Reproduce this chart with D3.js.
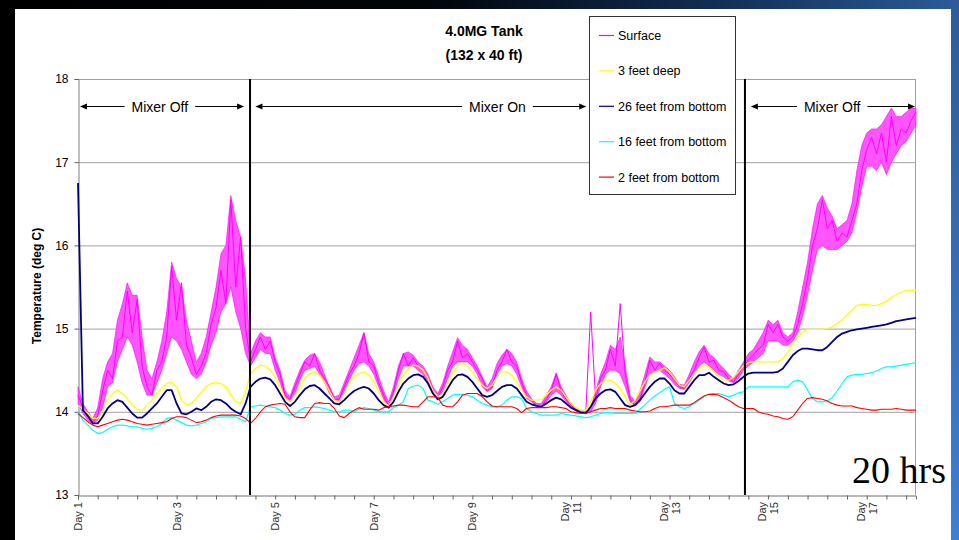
<!DOCTYPE html>
<html>
<head>
<meta charset="utf-8">
<script src="https://cdn.jsdelivr.net/npm/d3@7"></script>
<style>
  body { margin: 0; background: #000; }
  svg { display: block; font-family: Arial, "Liberation Sans", sans-serif; }
</style>
</head>
<body>
<div id="chart"></div>
<script>
// logger readings, one every 0.1 day from Day 1 to Day 18 (deg C)
const startDay = 1, stepDay = 0.1;

const surface = [
  14.2, 14.05, 13.95, 13.88, 13.95, 14.25, 14.5, 14.4, 14.85, 14.9,
  15.45, 14.95, 15.35, 14.55, 14.3, 14.2, 14.5, 14.6, 14.9, 15.75,
  15.1, 15.55, 14.8, 14.65, 14.45, 14.55, 14.7, 15.05, 15.25, 15.7,
  15.3, 16.55, 15.5, 16.1, 15.0, 14.6, 14.75, 14.9, 14.75, 14.85,
  14.6, 14.45, 14.2, 14.15, 14.3, 14.45, 14.6, 14.55, 14.7, 14.5,
  14.4, 14.3, 14.15, 14.15, 14.3, 14.45, 14.55, 14.7, 14.95, 14.6,
  14.55, 14.35, 14.2, 14.07, 14.25, 14.5, 14.7, 14.55, 14.65, 14.55,
  14.5, 14.4, 14.25, 14.17, 14.3, 14.5, 14.6, 14.85, 14.65, 14.7,
  14.6, 14.5, 14.4, 14.25, 14.3, 14.5, 14.6, 14.75, 14.6, 14.55,
  14.35, 14.2, 14.14, 14.08, 14.06, 14.15, 14.25, 14.45, 14.25, 14.15,
  14.08, 14.03, 14.0, 13.98, 15.2, 14.15, 14.4, 14.5, 14.75, 14.55,
  15.3, 14.45, 14.15, 14.08, 14.15, 14.35, 14.62, 14.5, 14.58, 14.5,
  14.45, 14.38, 14.3, 14.28, 14.4, 14.5, 14.65, 14.78, 14.6, 14.62,
  14.5, 14.48, 14.4, 14.36, 14.45, 14.55, 14.62, 14.68, 14.75, 14.8,
  15.05, 14.95, 15.05, 14.9, 14.85, 14.9, 15.05, 15.3, 15.6, 16.0,
  16.2, 16.55, 16.2, 16.3, 16.05, 16.15, 16.1, 16.3, 16.5, 16.9,
  17.15, 17.3, 17.1, 17.35, 17.0, 17.55, 17.2, 17.4, 17.35, 17.5,
  17.6
];

// spread of the noisy surface trace inside each 0.1 day
const surfaceLow = [
  14.1, 13.98, 13.9, 13.85, 13.9, 14.05, 14.3, 14.35, 14.6, 14.75,
  14.9, 14.8, 14.6, 14.35, 14.2, 14.2, 14.35, 14.5, 14.7, 14.9,
  14.85, 14.75, 14.6, 14.45, 14.4, 14.45, 14.6, 14.8, 14.95, 15.2,
  15.3, 15.5, 15.2, 15.0, 14.7, 14.55, 14.65, 14.75, 14.7, 14.7,
  14.5, 14.35, 14.18, 14.12, 14.22, 14.38, 14.5, 14.52, 14.55, 14.45,
  14.35, 14.22, 14.14, 14.12, 14.25, 14.38, 14.5, 14.58, 14.6, 14.55,
  14.45, 14.3, 14.15, 14.06, 14.2, 14.4, 14.55, 14.55, 14.55, 14.5,
  14.45, 14.35, 14.22, 14.16, 14.25, 14.4, 14.55, 14.6, 14.6, 14.6,
  14.55, 14.45, 14.3, 14.24, 14.28, 14.45, 14.55, 14.58, 14.55, 14.45,
  14.3, 14.16, 14.12, 14.07, 14.06, 14.12, 14.2, 14.25, 14.2, 14.12,
  14.06, 14.02, 13.99, 13.98, 14.0, 14.1, 14.3, 14.45, 14.5, 14.5,
  14.45, 14.3, 14.12, 14.07, 14.12, 14.3, 14.45, 14.48, 14.5, 14.45,
  14.4, 14.33, 14.28, 14.27, 14.35, 14.45, 14.55, 14.6, 14.55, 14.5,
  14.45, 14.42, 14.37, 14.35, 14.4, 14.5, 14.55, 14.6, 14.65, 14.7,
  14.85, 14.85, 14.85, 14.8, 14.8, 14.85, 14.95, 15.15, 15.4, 15.7,
  15.95, 16.0, 15.95, 15.95, 15.95, 16.0, 16.05, 16.15, 16.4, 16.7,
  16.95, 16.95, 16.9, 17.0, 16.85, 17.0, 17.1, 17.2, 17.25, 17.35,
  17.45
];

const surfaceHigh = [
  14.3, 14.1, 14.0, 13.92, 14.05, 14.4, 14.6, 14.7, 15.1, 15.3,
  15.55, 15.4, 15.4, 14.9, 14.5, 14.4, 14.6, 14.85, 15.2, 15.8,
  15.6, 15.5, 15.1, 14.85, 14.6, 14.7, 14.9, 15.2, 15.5, 15.9,
  16.0, 16.6, 16.3, 16.1, 15.6, 14.7, 14.85, 14.95, 14.9, 14.9,
  14.65, 14.5, 14.25, 14.18, 14.35, 14.5, 14.62, 14.68, 14.7, 14.6,
  14.45, 14.3, 14.18, 14.2, 14.35, 14.5, 14.65, 14.8, 14.95, 14.7,
  14.6, 14.42, 14.25, 14.12, 14.3, 14.55, 14.7, 14.72, 14.68, 14.6,
  14.55, 14.45, 14.3, 14.22, 14.35, 14.55, 14.72, 14.89, 14.8, 14.75,
  14.65, 14.55, 14.42, 14.3, 14.4, 14.58, 14.68, 14.75, 14.7, 14.6,
  14.4, 14.25, 14.16, 14.1, 14.1, 14.2, 14.3, 14.47, 14.3, 14.2,
  14.1, 14.05, 14.02, 14.0, 14.05, 14.25, 14.45, 14.6, 14.8, 14.75,
  14.9, 14.55, 14.2, 14.12, 14.25, 14.45, 14.66, 14.6, 14.6, 14.55,
  14.5, 14.42, 14.33, 14.32, 14.45, 14.6, 14.72, 14.8, 14.7, 14.65,
  14.58, 14.52, 14.45, 14.4, 14.5, 14.6, 14.7, 14.75, 14.85, 14.95,
  15.1, 15.05, 15.1, 14.95, 14.9, 14.95, 15.2, 15.5, 15.8, 16.2,
  16.5, 16.6, 16.45, 16.35, 16.2, 16.25, 16.3, 16.5, 16.9, 17.2,
  17.35, 17.4, 17.4, 17.45, 17.55, 17.65, 17.55, 17.55, 17.6, 17.65,
  17.65
];

const feet3 = [
  14.08, 14.03, 13.98, 13.92, 13.92, 14.02, 14.15, 14.22, 14.26, 14.22,
  14.16, 14.08, 14.03, 14.02, 14.08, 14.14, 14.22, 14.28, 14.34, 14.36,
  14.3, 14.14, 14.08, 14.1, 14.16, 14.24, 14.3, 14.34, 14.35, 14.34,
  14.3, 14.2, 14.12, 14.1, 14.24, 14.46, 14.52, 14.56, 14.55, 14.5,
  14.42, 14.3, 14.16, 14.12, 14.2, 14.3, 14.4, 14.46, 14.48, 14.44,
  14.36, 14.25, 14.14, 14.12, 14.22, 14.34, 14.42, 14.46, 14.48, 14.44,
  14.36, 14.25, 14.12, 14.07, 14.18, 14.32, 14.44, 14.52, 14.56, 14.55,
  14.5, 14.4, 14.25, 14.18, 14.22, 14.34, 14.46, 14.55, 14.58, 14.55,
  14.48, 14.4, 14.32, 14.28, 14.32, 14.42, 14.48, 14.48, 14.44, 14.36,
  14.26, 14.18, 14.14, 14.14, 14.15, 14.2, 14.26, 14.3, 14.26, 14.18,
  14.1, 14.05, 14.02, 14.02, 14.12, 14.26, 14.34, 14.38, 14.38, 14.34,
  14.28, 14.18, 14.08, 14.14, 14.25, 14.36, 14.44, 14.48, 14.5, 14.53,
  14.48, 14.4, 14.32, 14.3, 14.38, 14.46, 14.52, 14.56, 14.54, 14.48,
  14.42, 14.38, 14.38, 14.42, 14.48, 14.55, 14.59, 14.6, 14.6, 14.6,
  14.6, 14.6, 14.6, 14.64, 14.72, 14.82, 14.9, 14.96, 14.99, 14.99,
  14.99, 14.99, 15.0, 15.02, 15.06, 15.1, 15.16, 15.22, 15.28, 15.29,
  15.29, 15.28, 15.28, 15.3, 15.33, 15.37, 15.41, 15.44, 15.46, 15.46,
  15.46
];

const feet26 = [
  16.75, 14.02, 13.95, 13.86, 13.86, 13.94, 14.04, 14.1, 14.14, 14.12,
  14.05, 13.98, 13.93, 13.93, 13.98, 14.04, 14.1, 14.18, 14.26, 14.26,
  14.1, 13.98, 13.97, 14.0, 14.04, 14.02, 14.06, 14.12, 14.15, 14.14,
  14.1, 14.04, 14.0, 13.97, 14.1, 14.3, 14.36, 14.4, 14.41, 14.39,
  14.32, 14.22, 14.12, 14.07, 14.12, 14.2, 14.27, 14.31, 14.32, 14.28,
  14.22, 14.16, 14.1, 14.09, 14.14, 14.2, 14.25, 14.28, 14.3, 14.28,
  14.22, 14.14, 14.08, 14.05, 14.12, 14.24, 14.34, 14.4, 14.44, 14.45,
  14.42, 14.34, 14.22, 14.15, 14.18, 14.28, 14.38, 14.44, 14.45, 14.42,
  14.36, 14.28, 14.2, 14.18, 14.2, 14.25, 14.3, 14.32, 14.32, 14.28,
  14.2, 14.12, 14.09, 14.07, 14.06, 14.1, 14.14, 14.17, 14.15, 14.1,
  14.05, 14.02, 13.99, 13.98, 14.06, 14.16, 14.22, 14.26, 14.27, 14.24,
  14.16, 14.08, 14.06, 14.08, 14.14, 14.22, 14.3, 14.36, 14.4, 14.4,
  14.34, 14.26, 14.22, 14.22, 14.3, 14.38, 14.44, 14.44, 14.47, 14.42,
  14.38, 14.34, 14.32, 14.33, 14.37, 14.42, 14.46, 14.47, 14.47, 14.47,
  14.47, 14.47, 14.48, 14.52, 14.6, 14.68, 14.73, 14.76, 14.76, 14.75,
  14.74, 14.74, 14.78, 14.84, 14.9, 14.94, 14.96, 14.98, 14.99, 15.0,
  15.01, 15.02, 15.03, 15.04, 15.05, 15.07, 15.09, 15.1, 15.11, 15.12,
  15.13
];

const feet16 = [
  14.0, 13.9, 13.84, 13.78, 13.74, 13.75, 13.79, 13.82, 13.84, 13.84,
  13.83, 13.82, 13.82, 13.8, 13.79, 13.8, 13.82, 13.86, 13.92, 13.93,
  13.9, 13.87, 13.84, 13.83, 13.84, 13.86, 13.88, 13.92, 13.93, 13.94,
  13.94, 13.94, 13.94, 13.91, 13.88, 14.06, 14.07, 14.08, 14.07, 14.06,
  14.05, 14.02, 13.98, 13.96, 13.97, 14.02, 14.05, 14.05, 14.06, 14.05,
  14.04, 14.02, 14.0, 14.0, 14.02, 14.02, 14.0, 14.03, 14.05, 14.04,
  14.02, 14.0, 14.0, 14.0, 14.05, 14.08, 14.12, 14.28, 14.31, 14.32,
  14.28, 14.14, 14.12, 14.09, 14.12, 14.16, 14.2, 14.21, 14.21, 14.2,
  14.18, 14.14, 14.1, 14.08, 14.06, 14.06, 14.08, 14.14, 14.18, 14.18,
  14.16, 14.04, 14.0, 13.98, 13.96, 13.96, 13.96, 13.96, 13.98, 13.97,
  13.96, 13.95, 13.94, 13.93, 13.94, 13.96, 13.98, 13.99, 13.99, 13.98,
  13.98, 13.98, 13.98, 13.98, 14.03, 14.08, 14.14, 14.19, 14.23, 14.27,
  14.3, 14.1, 14.06, 14.04, 14.06, 14.1, 14.14, 14.18, 14.21, 14.22,
  14.22, 14.2, 14.18, 14.2, 14.23, 14.24, 14.3, 14.3, 14.3, 14.3,
  14.3, 14.3, 14.3, 14.3, 14.3, 14.36, 14.38, 14.36, 14.26, 14.16,
  14.12, 14.12, 14.13, 14.17, 14.25, 14.34, 14.42, 14.44, 14.45, 14.45,
  14.46, 14.47, 14.49, 14.52, 14.54, 14.54, 14.55, 14.56, 14.57, 14.58,
  14.59
];

const feet2 = [
  13.98, 13.93, 13.88, 13.84, 13.82, 13.84, 13.86, 13.88, 13.9, 13.91,
  13.9, 13.88, 13.86, 13.85, 13.84, 13.85, 13.86, 13.87, 13.88, 13.92,
  13.94, 13.94, 13.93, 13.9, 13.87, 13.88, 13.9, 13.93, 13.95, 13.96,
  13.96, 13.96, 13.96, 13.95, 13.92, 13.86, 13.92, 14.0, 14.06, 14.08,
  14.09, 14.1, 14.09, 14.0, 13.94, 13.93, 13.93, 14.02, 14.1, 14.11,
  14.1, 14.1, 14.04, 13.95, 13.93, 13.98, 14.02, 14.05, 14.03, 14.03,
  14.03, 14.02, 14.05, 14.06, 14.07, 14.08, 14.08, 14.07, 14.06, 14.06,
  14.12, 14.18, 14.18, 14.17, 14.08, 14.06, 14.06, 14.12, 14.2, 14.22,
  14.22, 14.22, 14.18, 14.12, 14.07, 14.06, 14.06, 14.06, 14.06, 14.04,
  13.99, 14.04, 14.05, 14.05, 14.05, 14.05, 14.06, 14.06, 14.05, 14.04,
  14.0, 13.99, 13.98, 13.98, 14.0, 14.02, 14.04, 14.04, 14.05, 14.04,
  14.04, 14.04, 14.02, 14.01, 14.0, 14.0, 14.01, 14.04, 14.06, 14.06,
  14.07, 14.08, 14.08, 14.08, 14.08, 14.11, 14.15, 14.19, 14.21, 14.21,
  14.2, 14.17, 14.14, 14.1, 14.06, 14.04, 14.04, 14.04, 14.0, 13.98,
  13.97, 13.95, 13.94, 13.92, 13.91, 13.94, 14.02, 14.1, 14.16, 14.17,
  14.16, 14.15, 14.13, 14.1, 14.08, 14.07, 14.07, 14.07, 14.05, 14.04,
  14.03, 14.02, 14.02, 14.03, 14.03, 14.03, 14.04, 14.03, 14.02, 14.02,
  14.02
];

const seriesNames = ["Surface", "3 feet deep", "26 feet from bottom", "16 feet from bottom", "2 feet from bottom"];
const seriesValues = [surface, feet3, feet26, feet16, feet2];
const seriesColors = ["#ff00ff", "#ffff00", "#000080", "#00ffff", "#ff0000"];
const seriesWidths = [1, 1.3, 1.8, 1.2, 1.1];

const yTicks = [13, 14, 15, 16, 17, 18];
const dayLabels = [1, 3, 5, 7, 9, 11, 13, 15, 17];
const mixerSwitch = [4.49, 14.53];
const mixerNotes = [
  { label: "Mixer Off", from: 1.04, to: 4.37, at: 2.66 },
  { label: "Mixer On", from: 4.6, to: 11.31, at: 9.51 },
  { label: "Mixer Off", from: 14.65, to: 17.98, at: 16.3 }
];

const width = 959, height = 540;

const x = d3.scaleLinear().domain([1, 18]).range([78, 916]);
const y = d3.scaleLinear().domain([13, 18]).range([495, 79]);
const dayAt = i => startDay + i * stepDay;

const svg = d3.select("#chart")
  .append("svg")
  .attr("width", width)
  .attr("height", height);

// slide background
const defs = svg.append("defs");
const topGrad = defs.append("linearGradient").attr("id", "topGrad");
topGrad.append("stop").attr("offset", "0%").attr("stop-color", "#000");
topGrad.append("stop").attr("offset", "45%").attr("stop-color", "#01040a");
topGrad.append("stop").attr("offset", "75%").attr("stop-color", "#122e55");
topGrad.append("stop").attr("offset", "100%").attr("stop-color", "#2c5c98");
const sideGrad = defs.append("linearGradient").attr("id", "sideGrad")
  .attr("x1", 0).attr("y1", 0).attr("x2", 0).attr("y2", 1);
sideGrad.append("stop").attr("offset", "0%").attr("stop-color", "#2c5c98");
sideGrad.append("stop").attr("offset", "100%").attr("stop-color", "#3d7fd4");

svg.append("rect").attr("width", width).attr("height", height).attr("fill", "#000");
svg.append("rect").attr("width", width).attr("height", 9).attr("fill", "url(#topGrad)");
svg.append("rect").attr("x", 951).attr("width", 8).attr("height", height).attr("fill", "url(#sideGrad)");
svg.append("rect").attr("x", 15).attr("y", 9).attr("width", 936).attr("height", 531).attr("fill", "#fff");

// grid
svg.append("g")
  .selectAll("line")
  .data(yTicks.filter(t => t > 13))
  .join("line")
  .attr("x1", x(1)).attr("x2", x(18))
  .attr("y1", d => y(d) + 0.5).attr("y2", d => y(d) + 0.5)
  .attr("stroke", "#a0a0a0");

svg.append("line")
  .attr("x1", x(18) - 0.5).attr("x2", x(18) - 0.5)
  .attr("y1", y(18)).attr("y2", y(13))
  .attr("stroke", "#a0a0a0");

// axes
svg.append("g")
  .attr("transform", `translate(${x(1) + 0.5},0)`)
  .call(d3.axisLeft(y).tickValues(yTicks).tickSize(4).tickPadding(6).tickFormat(d3.format("d")))
  .call(g => g.select(".domain").attr("stroke", "#808080"))
  .call(g => g.selectAll(".tick line").attr("stroke", "#606060"))
  .call(g => g.selectAll("text").attr("font-size", 12).attr("fill", "#000")
    .attr("font-family", "Arial, 'Liberation Sans', sans-serif"));

const xTicks = d3.range(43).map(i => 1 + i * 0.4);
svg.append("g")
  .attr("transform", `translate(0,${y(13) + 0.5})`)
  .call(d3.axisBottom(x).tickValues(xTicks).tickSize(4).tickFormat(""))
  .call(g => g.select(".domain").attr("stroke", "#707070"))
  .call(g => g.selectAll(".tick line").attr("stroke", "#606060"));

const dayText = svg.append("g")
  .attr("font-size", 11)
  .attr("fill", "#333")
  .selectAll("text")
  .data(dayLabels)
  .join("text")
  .attr("transform", d => `translate(${x(d)},502) rotate(-90)`)
  .attr("text-anchor", "end");

dayText.each(function(d) {
  const t = d3.select(this);
  if (d < 10) {
    t.append("tspan").attr("x", 0).attr("y", 4).text("Day " + d);
  } else {
    t.append("tspan").attr("x", 0).attr("y", -2).text("Day");
    t.append("tspan").attr("x", 0).attr("y", 10).text(d);
  }
});

// surface noise band, then the traces
const band = d3.area()
  .x((d, i) => x(dayAt(i)))
  .y0(d => y(d[0]))
  .y1(d => y(d[1]));

svg.append("path")
  .datum(surfaceLow.map((v, i) => [v, surfaceHigh[i]]))
  .attr("fill", "#ff55ff")
  .attr("stroke", "#ff00ff")
  .attr("stroke-width", 0.6)
  .attr("d", band);

const line = d3.line()
  .x((d, i) => x(dayAt(i)))
  .y(d => y(d));

svg.append("g")
  .selectAll("path")
  .data(seriesValues)
  .join("path")
  .attr("fill", "none")
  .attr("stroke", (d, i) => seriesColors[i])
  .attr("stroke-width", (d, i) => seriesWidths[i])
  .attr("stroke-linejoin", "round")
  .attr("d", line);

// mixer switch lines
svg.append("g")
  .selectAll("line")
  .data(mixerSwitch)
  .join("line")
  .attr("x1", d => x(d)).attr("x2", d => x(d))
  .attr("y1", y(18)).attr("y2", y(13))
  .attr("stroke", "#000")
  .attr("stroke-width", 2);

// mixer arrows
const noteY = 106.5;
const notes = svg.append("g");
mixerNotes.forEach(n => {
  const cx = x(n.at);
  const t = notes.append("text")
    .attr("x", cx).attr("y", noteY + 5)
    .attr("text-anchor", "middle")
    .attr("font-size", 14)
    .attr("fill", "#000")
    .text(n.label);
  const w = t.node().getComputedTextLength();
  const x0 = x(n.from), x1 = x(n.to);
  notes.append("line")
    .attr("x1", x0 + 5).attr("x2", cx - w / 2 - 7)
    .attr("y1", noteY).attr("y2", noteY)
    .attr("stroke", "#000");
  notes.append("line")
    .attr("x1", cx + w / 2 + 7).attr("x2", x1 - 5)
    .attr("y1", noteY).attr("y2", noteY)
    .attr("stroke", "#000");
  notes.append("path")
    .attr("d", `M${x0},${noteY} L${x0 + 7},${noteY - 3} L${x0 + 7},${noteY + 3} Z`)
    .attr("fill", "#000");
  notes.append("path")
    .attr("d", `M${x1},${noteY} L${x1 - 7},${noteY - 3} L${x1 - 7},${noteY + 3} Z`)
    .attr("fill", "#000");
});

// legend
const legend = svg.append("g");
legend.append("rect")
  .attr("x", 589.5).attr("y", 16.5)
  .attr("width", 146).attr("height", 178)
  .attr("fill", "#fff")
  .attr("stroke", "#333");

const item = legend.selectAll("g.item")
  .data(seriesNames)
  .join("g")
  .attr("class", "item")
  .attr("transform", (d, i) => `translate(599,${35.5 + i * 35.4})`);

item.append("line")
  .attr("x1", 0).attr("x2", 15)
  .attr("stroke", (d, i) => seriesColors[i])
  .attr("stroke-width", 1.2);

item.append("text")
  .attr("x", 19).attr("y", 4.5)
  .attr("font-size", 12.5)
  .attr("fill", "#000")
  .text(d => d);

// titles
svg.append("text")
  .attr("x", 484).attr("y", 35.5)
  .attr("text-anchor", "middle")
  .attr("font-size", 14).attr("font-weight", "bold")
  .text("4.0MG Tank");

svg.append("text")
  .attr("x", 484).attr("y", 59.5)
  .attr("text-anchor", "middle")
  .attr("font-size", 14).attr("font-weight", "bold")
  .text("(132 x 40 ft)");

svg.append("text")
  .attr("transform", "translate(41,286) rotate(-90)")
  .attr("text-anchor", "middle")
  .attr("font-size", 12).attr("font-weight", "bold")
  .text("Temperature (deg C)");

svg.append("text")
  .attr("x", 946).attr("y", 483)
  .attr("text-anchor", "end")
  .attr("font-family", "'Liberation Serif', 'Times New Roman', serif")
  .attr("font-size", 38)
  .attr("fill", "#000")
  .text("20 hrs");
</script>
</body>
</html>
